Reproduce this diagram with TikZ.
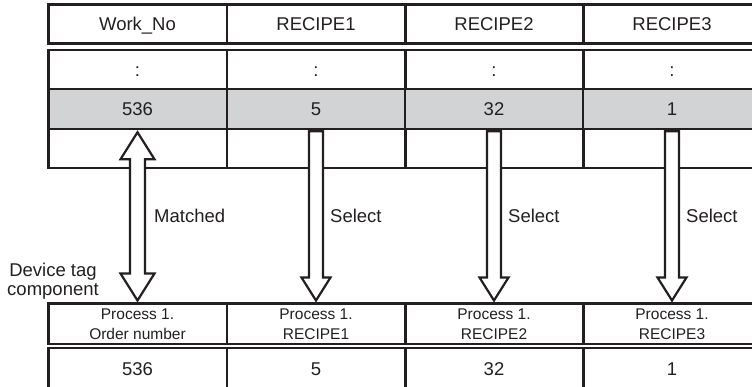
\documentclass[tikz,border=0pt]{standalone}
\usepackage{fontspec}
\setmainfont{Liberation Sans}
\usetikzlibrary{calc}
\definecolor{ink}{RGB}{35,31,32}
\definecolor{rowgray}{RGB}{209,211,212}
\newcommand\tblfont{\fontsize{18.5}{21}\selectfont}
\newcommand\smlfont{\fontsize{15.5}{20}\selectfont}
\tikzset{
  cell/.style={draw=ink, line width=2.5pt, inner sep=0pt, minimum width=178.5pt,
    text=ink, font=\tblfont, text height=13.3pt, text depth=0pt, anchor=center},
  hcell/.style={cell, font=\smlfont, align=center, text height=31.3pt, text depth=0pt},
  lbl/.style={text=ink, font=\tblfont, inner sep=0pt, anchor=base west},
  blockarrow/.style={draw=ink, fill=white, line width=2.2pt, line join=miter}
}
\begin{document}
\begin{tikzpicture}[x=1pt, y=-1pt]
\useasboundingbox (0,0) rectangle (752,387);
\clip (0,0) rectangle (752,387);
% top table
\foreach \c/\x/\t in {1/137.5/Work\_No, 2/316/RECIPE1, 3/494/RECIPE2, 4/672/RECIPE3} {
  \node[cell, minimum height=39pt] (h\c) at (\x,24.2) {\t};
  \node[cell, minimum height=39pt] (d\c) at (\x,69.5) {:};
}
\foreach \c/\x/\t in {1/137.5/536, 2/316/5, 3/494/32, 4/672/1} {
  \node[cell, fill=rowgray, minimum height=40pt] (v\c) at (\x,109) {\t};
}
\foreach \c/\x in {1/137.5, 2/316, 3/494, 4/672} {
  \node[cell, minimum height=39pt] (e\c) at (\x,148.5) {};
}
% bottom table
\node[hcell, minimum height=40.5pt] (p1) at (137.5,323.5) {Process 1.\\Order number};
\node[hcell, minimum height=40.5pt] (p2) at (316,323.5) {Process 1.\\RECIPE1};
\node[hcell, minimum height=40.5pt] (p3) at (494,323.5) {Process 1.\\RECIPE2};
\node[hcell, minimum height=40.5pt] (p4) at (672,323.5) {Process 1.\\RECIPE3};
\foreach \c/\x/\t in {1/137.5/536, 2/316/5, 3/494/32, 4/672/1} {
  \node[cell, minimum height=42pt] (b\c) at (\x,369) {\t};
}
% arrow end points
\coordinate (mt) at ($(v1.south)+(0,2)$);
\coordinate (mb) at ($(p1.north)+(0,-1.5)$);
\draw[blockarrow] (mt) -- ++(17,27) -- ++(-9.5,0) |- ($(mb)+(7.5,-27)$) -- ++(9.5,0) -- (mb)
  -- ++(-17,-27) -- ++(9.5,0) |- ($(mt)+(-7.5,27)$) -- ++(-9.5,0) -- cycle;
\foreach \c in {2,3,4} {
  \coordinate (st\c) at ($(v\c.south)+(0,1)$);
  \coordinate (sb\c) at ($(p\c.north)+(0,-1.5)$);
  \draw[blockarrow] ($(st\c)+(-7,0)$) -- ($(st\c)+(7,0)$) -- ($(sb\c)+(7,-23)$) -- ++(7.5,0)
    -- (sb\c) -- ($(sb\c)+(-14.5,-23)$) -- ++(7.5,0) -- cycle;
}
% labels
\node[lbl] (lm) at (154,223) {Matched};
\node[lbl] (ls2) at (330,223) {Select};
\node[lbl] (ls3) at (508,223) {Select};
\node[lbl] (ls4) at (686,223) {Select};
\node[text=ink, font=\fontsize{18.5}{19}\selectfont, align=center, inner sep=0pt, anchor=base] (dev) at (53,295) {Device tag\\component};
\end{tikzpicture}
\end{document}
